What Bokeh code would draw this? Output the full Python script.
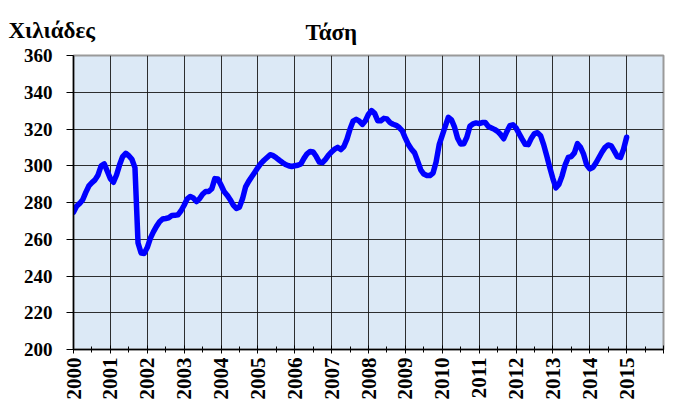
import math
from bokeh.plotting import figure
from bokeh.models import FixedTicker, Range1d, Title, ColumnDataSource
from bokeh.embed import file_html
from bokeh.resources import INLINE

# Monthly trend values (thousands), Jan 2000 .. Jan 2015
v2000 = [274.7, 278.0, 279.5, 281.5, 285.5, 289.0, 290.8, 292.3, 295.0, 300.0, 301.0, 297.0]
v2001 = [293.0, 291.0, 295.0, 300.5, 305.0, 306.8, 305.5, 303.5, 299.0, 258.0, 252.5, 252.3]
v2002 = [255.5, 260.5, 264.0, 267.0, 269.5, 271.0, 271.3, 271.7, 272.9, 273.0, 273.3, 275.5]
v2003 = [278.5, 282.0, 283.3, 282.5, 280.5, 282.0, 284.5, 286.0, 286.0, 287.5, 293.0, 292.8]
v2004 = [289.5, 286.0, 284.0, 281.5, 278.6, 276.8, 277.5, 282.0, 288.5, 291.5, 294.0, 296.5]
v2005 = [299.0, 301.3, 303.0, 304.5, 306.0, 305.5, 304.3, 303.0, 301.8, 300.7, 300.0, 299.6]
v2006 = [300.0, 300.3, 301.0, 304.0, 306.5, 307.8, 307.5, 305.0, 302.0, 301.7, 303.5, 305.8]
v2007 = [307.6, 309.0, 310.0, 308.8, 310.5, 314.5, 320.0, 324.3, 325.3, 324.3, 322.5, 324.5]
v2008 = [328.0, 330.0, 328.5, 324.5, 324.5, 325.8, 325.5, 323.5, 322.6, 322.0, 320.8, 319.0]
v2009 = [315.0, 311.5, 309.0, 307.0, 302.5, 297.8, 295.5, 294.7, 294.7, 296.0, 302.0, 311.5]
v2010 = [316.5, 321.5, 326.4, 325.0, 321.0, 315.0, 311.8, 312.0, 315.5, 321.5, 322.8, 323.3]
v2011 = [322.9, 323.5, 323.5, 321.4, 320.6, 319.8, 318.7, 317.0, 314.7, 318.5, 321.8, 322.3]
v2012 = [320.6, 317.5, 314.5, 311.7, 311.5, 315.0, 317.5, 318.0, 316.4, 311.5, 305.5, 299.0]
v2013 = [293.0, 288.0, 290.0, 294.5, 300.5, 304.5, 305.0, 307.0, 312.0, 310.0, 306.3, 300.5]
v2014 = [298.3, 299.0, 301.5, 304.5, 307.5, 310.0, 311.3, 310.8, 308.0, 305.0, 304.5, 309.0]
v2015 = [315.5]

values = (v2000 + v2001 + v2002 + v2003 + v2004 + v2005 + v2006 + v2007 +
          v2008 + v2009 + v2010 + v2011 + v2012 + v2013 + v2014 + v2015)
start_year = 2000
months = [start_year + i / 12 for i in range(len(values))]

year_ticks = list(range(2000, 2017))
year_labels = [str(y) for y in range(2000, 2016)]
y_ticks = list(range(200, 361, 20))

title_text = "Τάση"
unit_text = "Χιλιάδες"

src = ColumnDataSource(dict(x=months, y=values))

p = figure(width=667, height=404, output_backend="svg", toolbar_location=None,
           x_range=Range1d(2000, 2016), y_range=Range1d(200, 360),
           min_border_left=73, min_border_right=4, min_border_top=55, min_border_bottom=55)
p.background_fill_color = "#dce9f6"
p.border_fill_color = "white"
p.outline_line_color = "#9a9a9a"
p.outline_line_width = 2

# inner title row (nearest the frame): units
unit_title = Title(text=unit_text, align="left", offset=-65, standoff=26,
                   vertical_align="bottom",
                   text_font="Liberation Serif", text_font_style="bold",
                   text_font_size="23px", text_color="black")
p.add_layout(unit_title, "above")

# outer title row pulled down onto the same line
p.title.text = title_text
p.title.align = "left"
p.title.offset = 232
p.title.vertical_align = "bottom"
p.title.standoff = -84
p.title.text_font = "Liberation Serif"
p.title.text_font_style = "bold"
p.title.text_font_size = "23px"
p.title.text_color = "black"

p.line("x", "y", source=src, line_color="#0000ff", line_width=5.5, line_join="round", line_cap="round")

xt = FixedTicker(ticks=year_ticks, minor_ticks=[y + 0.5 for y in range(2000, 2016)])
p.xaxis.ticker = xt
p.xaxis.major_label_overrides = {y: (year_labels[i] if i < len(year_labels) else "")
                                 for i, y in enumerate(year_ticks)}
p.xaxis.major_label_orientation = math.pi / 2
p.xaxis.major_tick_in = 4
p.xaxis.major_tick_out = 4
p.xaxis.minor_tick_in = 3
p.xaxis.minor_tick_out = 3
p.xaxis.major_label_standoff = 4

p.yaxis.ticker = FixedTicker(ticks=y_ticks)
p.yaxis.major_tick_in = 0
p.yaxis.major_tick_out = 7
p.yaxis.minor_tick_line_color = None
p.yaxis.major_label_standoff = 14

for ax in (p.xaxis, p.yaxis):
    ax.axis_line_color = "black"
    ax.axis_line_width = 1.5
    ax.major_tick_line_color = "black"
    ax.major_label_text_font = "Liberation Serif"
    ax.major_label_text_font_style = "bold"
    ax.major_label_text_font_size = "19px"
    ax.major_label_text_color = "black"
p.xaxis.minor_tick_line_color = "black"
p.xaxis.major_label_text_font_size = "21px"

p.xgrid.ticker = xt
p.ygrid.ticker = FixedTicker(ticks=y_ticks)
for g in (p.xgrid, p.ygrid):
    g.grid_line_color = "#1a1a1a"
    g.grid_line_width = 1
    g.grid_line_alpha = 0.9

open("out.html", "w").write(file_html(p, INLINE))
